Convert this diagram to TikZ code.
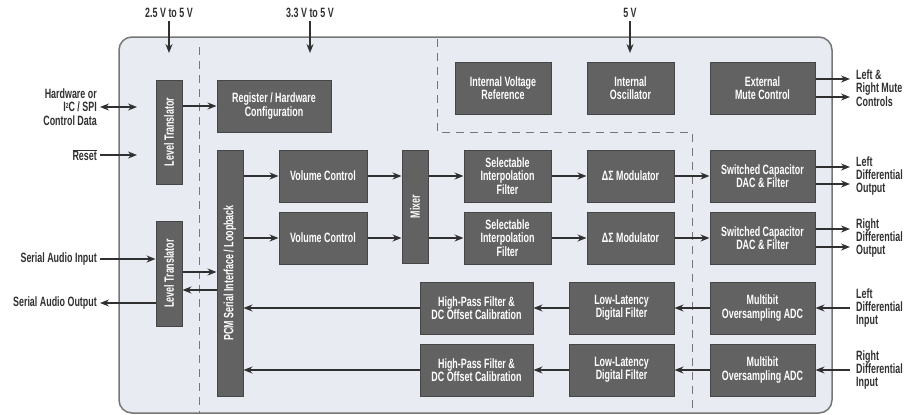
\documentclass[tikz,border=0pt]{standalone}
\usepackage{fontspec}
\setmainfont{Liberation Sans}[FakeStretch=0.66]
\usepackage{graphicx}
\usetikzlibrary{arrows.meta}
\definecolor{boxfill}{HTML}{626262}
\definecolor{boxedge}{HTML}{464646}
\definecolor{panelfill}{HTML}{E9EBF3}
\definecolor{paneledge}{HTML}{767676}
\definecolor{wire}{HTML}{303030}
\tikzset{blk/.style 2 args = {draw=boxedge, line width=1pt, fill=boxfill,
                              text=white, align=center, inner sep=0,
                              font=\bfseries\fontsize{13.5}{13.4}\selectfont,
                              minimum width=#1, minimum height=#2}}
\tikzset{lbl/.style = {text=wire, inner sep=3pt,
                       font=\bfseries\fontsize{13.5}{13.4}\selectfont}}
\tikzset{arr/.style = {draw=wire, line width=1.4pt,
                       -{Stealth[length=9pt,width=7pt,inset=3pt]}}}
\tikzset{biarr/.style = {draw=wire, line width=1.4pt,
                         {Stealth[length=9pt,width=7pt,inset=3pt]}-{Stealth[length=9pt,width=7pt,inset=3pt]}}}
\tikzset{dashln/.style = {draw=paneledge, line width=0.9pt, dash pattern=on 8pt off 6pt}}
\newcommand{\sqtwo}{{\fontsize{7.5}{7.5}\selectfont\raisebox{3.5pt}{2}}}

\begin{document}
\begin{tikzpicture}[x=1pt, y=-1pt]
      \useasboundingbox (0,0) rectangle (919,415);
      \draw[draw=paneledge, line width=1.5pt, fill=panelfill, rounded corners=13pt]
        (119,37) rectangle (832,413);
      \draw[dashln] (199,47) -- (199,413);
      \draw[dashln] (437,39) -- (437,132) -- (692,132) -- (692,413);

      \node[lbl] (s1) at (169,13) {2.5 V to 5 V};
      \node[lbl] (s2) at (310,13) {3.3 V to 5 V};
      \node[lbl] (s3) at (630,13) {5 V};
      \coordinate (s1e) at (169,53);
      \coordinate (s2e) at (310,53);
      \coordinate (s3e) at (630,53);
      \draw[arr] (s1) -- (s1e);
      \draw[arr] (s2) -- (s2e);
      \draw[arr] (s3) -- (s3e);

      \node[blk={26pt}{104pt}] (lt1) at (169,132) {\rotatebox{90}{Level Translator}};
      \node[blk={26pt}{105pt}] (lt2) at (169,273.5) {\rotatebox{90}{Level Translator}};
      \node[blk={114pt}{52pt}] (reg) at (274,106) {Register / Hardware\\Configuration};
      \node[blk={26pt}{246pt}] (pcm) at (230,273) {\rotatebox{90}{PCM Serial Interface / Loopback}};
      \node[blk={96pt}{52pt}] (ivr) at (503,88) {Internal Voltage\\Reference};
      \node[blk={87pt}{52pt}] (osc) at (630.5,88) {Internal\\Oscillator};
      \node[blk={105pt}{52pt}] (mute) at (762.5,88) {External\\Mute Control};
      \node[blk={88pt}{52pt}] (vc1) at (323,176) {Volume Control};
      \node[blk={88pt}{52pt}] (vc2) at (323,238) {Volume Control};
      \node[blk={26pt}{113pt}] (mix) at (415,206.5) {\rotatebox{90}{Mixer}};
      \node[blk={87pt}{52pt}] (sif1) at (507.5,176) {Selectable\\Interpolation\\Filter};
      \node[blk={87pt}{52pt}] (sif2) at (507.5,238) {Selectable\\Interpolation\\Filter};
      \node[blk={87pt}{52pt}] (dsm1) at (630.5,176) {ΔΣ Modulator};
      \node[blk={87pt}{52pt}] (dsm2) at (630.5,238) {ΔΣ Modulator};
      \node[blk={105pt}{52pt}] (dac1) at (762.5,176) {Switched Capacitor\\DAC \& Filter};
      \node[blk={105pt}{52pt}] (dac2) at (762.5,238) {Switched Capacitor\\DAC \& Filter};
      \node[blk={113pt}{52pt}] (hpf1) at (476.5,308) {High-Pass Filter \&\\DC Offset Calibration};
      \node[blk={113pt}{52pt}] (hpf2) at (476.5,370) {High-Pass Filter \&\\DC Offset Calibration};
      \node[blk={105pt}{52pt}] (lld1) at (621.5,308) {Low-Latency\\Digital Filter};
      \node[blk={105pt}{52pt}] (lld2) at (621.5,370) {Low-Latency\\Digital Filter};
      \node[blk={105pt}{52pt}] (adc1) at (762.5,308) {Multibit\\Oversampling ADC};
      \node[blk={105pt}{52pt}] (adc2) at (762.5,370) {Multibit\\Oversampling ADC};

      \node[lbl, anchor=east, align=right] (hw) at (100,107) {Hardware or\\I\sqtwo C / SPI\\Control Data};
      \node[lbl, anchor=east] (rst) at (100,155) {$\overline{\mbox{Reset}}$};
      \node[lbl, anchor=east] (sai) at (100,259) {Serial Audio Input};
      \node[lbl, anchor=east] (sao) at (100,303) {Serial Audio Output};
      \coordinate (hwe) at (137,107);
      \coordinate (rste) at (137,155);
      \draw[biarr] (hw.east) -- (hwe);
      \draw[arr] (rst.east) -- (rste);
      \draw[arr] (sai.east) -- (lt2.west |- sai);
      \draw[arr] (lt2.west |- sao) -- (sao.east);

      \draw[arr] (lt1.east |- reg) -- (reg.west);
      \draw[arr] (lt2.east |- 0,272) -- (pcm.west |- 0,272);
      \draw[arr] (pcm.west |- 0,290) -- (lt2.east |- 0,290);

      \draw[arr] (pcm.east |- vc1) -- (vc1.west);
      \draw[arr] (pcm.east |- vc2) -- (vc2.west);
      \draw[arr] (vc1) -- (mix.west |- vc1);
      \draw[arr] (vc2) -- (mix.west |- vc2);
      \draw[arr] (mix.east |- sif1) -- (sif1);
      \draw[arr] (mix.east |- sif2) -- (sif2);
      \draw[arr] (sif1) -- (dsm1);
      \draw[arr] (sif2) -- (dsm2);
      \draw[arr] (dsm1) -- (dac1);
      \draw[arr] (dsm2) -- (dac2);

      \draw[arr] (adc1) -- (lld1);
      \draw[arr] (adc2) -- (lld2);
      \draw[arr] (lld1) -- (hpf1);
      \draw[arr] (lld2) -- (hpf2);
      \draw[arr] (hpf1) -- (pcm.east |- hpf1);
      \draw[arr] (hpf2) -- (pcm.east |- hpf2);

      \coordinate (outx) at (850,0);
      \draw[arr] ([yshift=9pt]mute.east) -- ([yshift=9pt]mute.east -| outx);
      \draw[arr] ([yshift=-9pt]mute.east) -- ([yshift=-9pt]mute.east -| outx);
      \draw[arr] ([yshift=9pt]dac1.east) -- ([yshift=9pt]dac1.east -| outx);
      \draw[arr] ([yshift=-8pt]dac1.east) -- ([yshift=-8pt]dac1.east -| outx);
      \draw[arr] ([yshift=9pt]dac2.east) -- ([yshift=9pt]dac2.east -| outx);
      \draw[arr] ([yshift=-9pt]dac2.east) -- ([yshift=-9pt]dac2.east -| outx);
      \draw[arr] (adc1.east -| outx) -- (adc1.east);
      \draw[arr] (adc2.east -| outx) -- (adc2.east);

      \node[lbl, anchor=west, align=left] (mo) at (853,88) {Left \&\\Right Mute\\Controls};
      \node[lbl, anchor=west, align=left] (lo) at (853,176) {Left\\Differential\\Output};
      \node[lbl, anchor=west, align=left] (ro) at (853,238) {Right\\Differential\\Output};
      \node[lbl, anchor=west, align=left] (li) at (853,308) {Left\\Differential\\Input};
      \node[lbl, anchor=west, align=left] (ri) at (853,370) {Right\\Differential\\Input};
    \end{tikzpicture}
\end{document}
